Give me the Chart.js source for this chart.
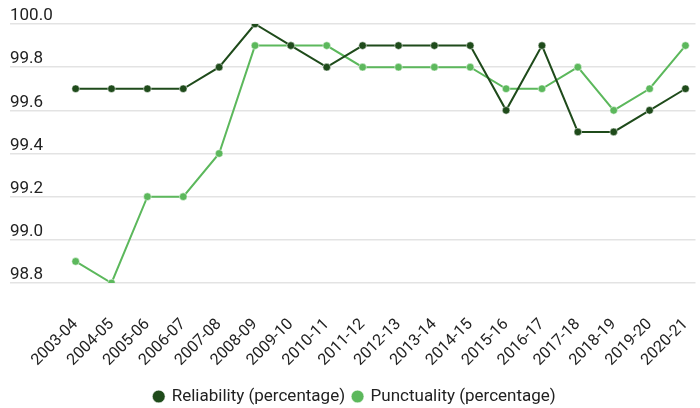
<!DOCTYPE html>
<html>
<head>
<meta charset="utf-8">
<script src="https://cdn.jsdelivr.net/npm/chart.js@4"></script>
<style>
  html, body { margin: 0; padding: 0; background: #fff; }
  #wrap { width: 700px; height: 408px; }
</style>
</head>
<body>
<div id="wrap"><canvas id="lineChart"></canvas></div>
<script>
"use strict";

const seasons = ["2003-04", "2004-05", "2005-06", "2006-07", "2007-08", "2008-09",
  "2009-10", "2010-11", "2011-12", "2012-13", "2013-14", "2014-15", "2015-16",
  "2016-17", "2017-18", "2018-19", "2019-20", "2020-21"];
const reliability = [99.7, 99.7, 99.7, 99.7, 99.8, 100.0, 99.9, 99.8, 99.9, 99.9,
  99.9, 99.9, 99.6, 99.9, 99.5, 99.5, 99.6, 99.7];
const punctuality = [98.9, 98.8, 99.2, 99.2, 99.4, 99.9, 99.9, 99.9, 99.8, 99.8,
  99.8, 99.8, 99.7, 99.7, 99.8, 99.6, 99.7, 99.9];
const yTicks = [98.8, 99.0, 99.2, 99.4, 99.6, 99.8, 100.0];

const darkGreen = "#1f4b1b";
const lightGreen = "#5cb85c";

Chart.defaults.font.family = "Roboto";
Chart.defaults.color = "#333";

// seasons are placed on a linear axis so the plot can start well inside the gridlines
const toPoints = (vals) => vals.map((v, i) => ({ x: i, y: v }));

let ctx = document.getElementById("lineChart").getContext("2d");
new Chart(ctx, {
  type: "line",
  data: {
    datasets: [
      {
        label: "Reliability (percentage)",
        data: toPoints(reliability),
        borderColor: darkGreen,
        backgroundColor: darkGreen,
        pointBackgroundColor: darkGreen,
        pointBorderColor: "#fff",
        pointBorderWidth: 0.5,
        borderWidth: 2,
        pointRadius: 3.8,
        tension: 0
      },
      {
        label: "Punctuality (percentage)",
        data: toPoints(punctuality),
        borderColor: lightGreen,
        backgroundColor: lightGreen,
        pointBackgroundColor: lightGreen,
        pointBorderColor: "#fff",
        pointBorderWidth: 0.5,
        borderWidth: 2,
        pointRadius: 3.8,
        tension: 0
      }
    ]
  },
  options: {
    responsive: true,
    maintainAspectRatio: false,
    animation: false,
    layout: { padding: { left: 10, right: 0, top: 24, bottom: -7 } },
    plugins: {
      tooltip: { enabled: false },
      legend: {
        position: "bottom",
        labels: {
          usePointStyle: true,
          pointStyle: "circle",
          boxWidth: 9,
          boxHeight: 9,
          padding: 8,
          color: "#222",
          font: { size: 17 }
        }
      }
    },
    scales: {
      x: {
        type: "linear",
        min: -1.83,
        max: 17.28,
        grid: { display: false },
        border: { display: false },
        afterFit: (axis) => { axis.paddingRight = 0; axis.height = 97; },
        ticks: {
          stepSize: 1,
          includeBounds: false,
          autoSkip: false,
          minRotation: 45,
          maxRotation: 45,
          padding: 24,
          color: "#222",
          font: { size: 16 },
          callback: (v) => (Number.isInteger(v) && seasons[v]) ? seasons[v] : ""
        }
      },
      y: {
        min: 98.8,
        max: 100.0,
        afterBuildTicks: (axis) => { axis.ticks = yTicks.map(v => ({ value: v })); },
        grid: { color: "#e3e3e3", lineWidth: 1.5, drawTicks: false },
        border: { display: false },
        ticks: {
          mirror: true,
          padding: 0,
          labelOffset: -8,
          color: "#222",
          font: { size: 17 },
          callback: (v) => v.toFixed(1)
        }
      }
    }
  }
});
</script>
</body>
</html>
